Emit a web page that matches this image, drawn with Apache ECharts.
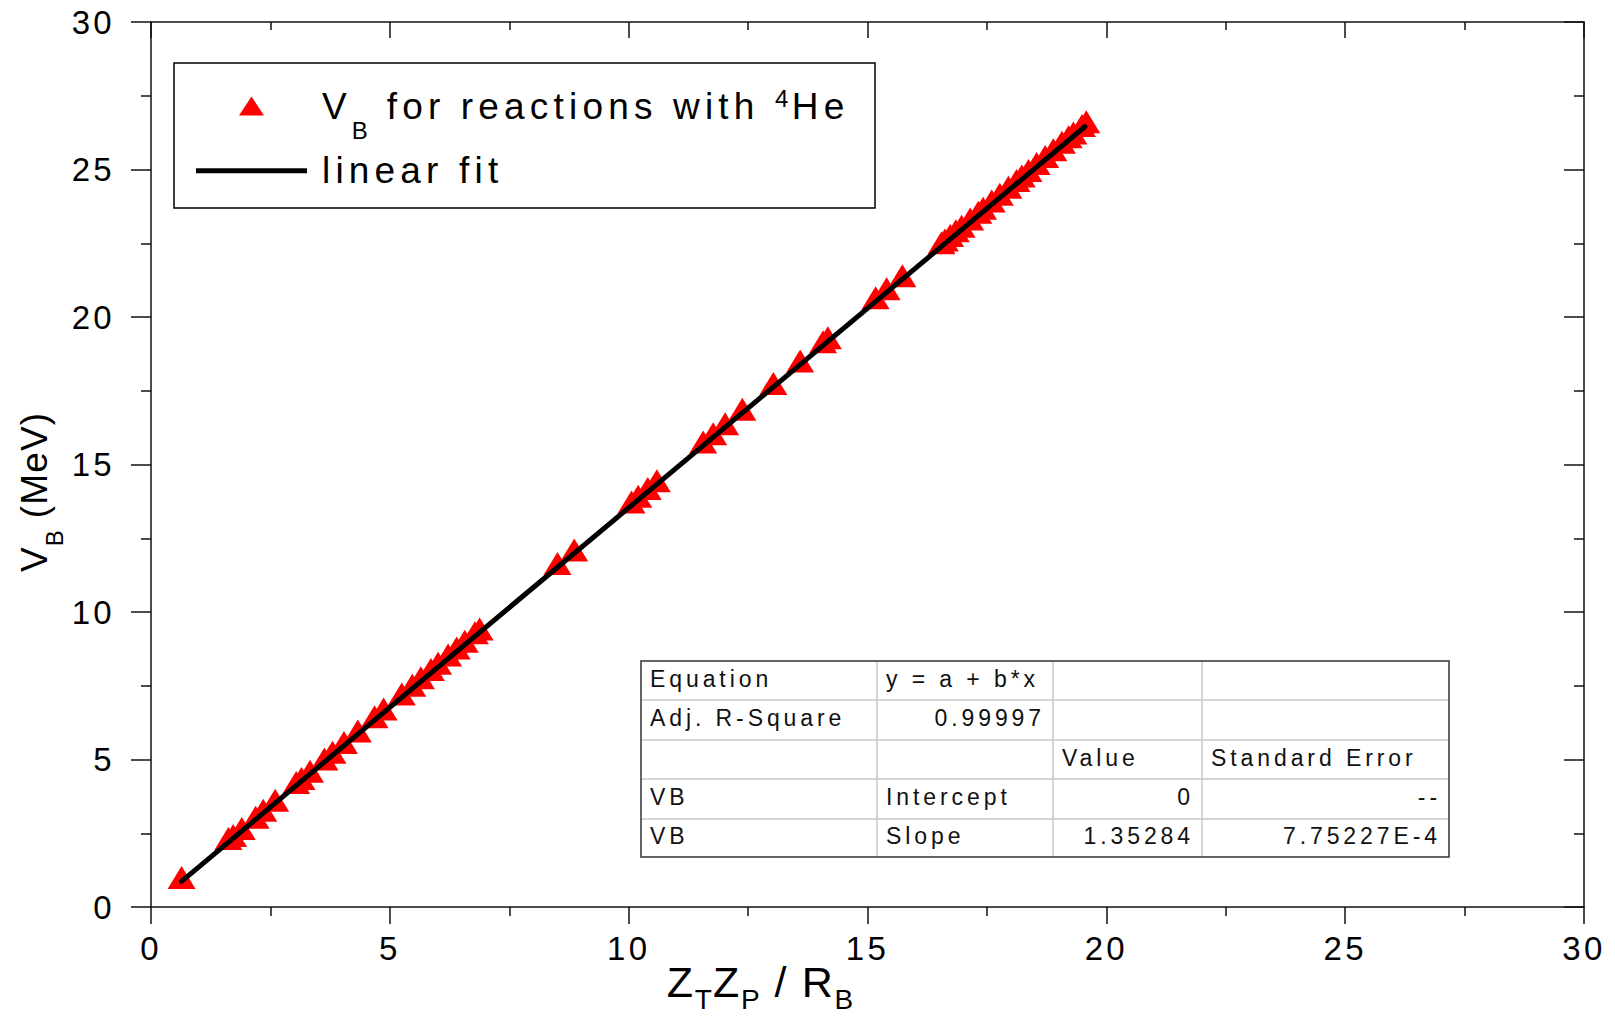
<!DOCTYPE html>
<html>
<head>
<meta charset="utf-8">
<script src="https://cdn.jsdelivr.net/npm/echarts@6.0.0/dist/echarts.min.js"></script>
<style>
    html, body { margin: 0; padding: 0; background: #fff; }
    #main { width: 1615px; height: 1017px; }
    /* Origin style tracking, picked per font family tag */
    #main text[style*="ls3"] { letter-spacing: 0.03em; }
    #main text[style*="ls4"] { letter-spacing: 0.04em; }
    #main text[style*="ls10"] { letter-spacing: 0.10em; }
    #main text[style*="ls14"] { letter-spacing: 0.14em; }
    #main text[style*="ls17"] { letter-spacing: 0.17em; }
</style>
</head>
<body>
<div id="main"></div>
<script>
// data
var xVals = [0.64, 1.62, 1.72, 1.90, 2.19, 2.35, 2.60, 3.04, 3.15, 3.33, 3.63, 3.80, 4.04, 4.33, 4.68, 4.87,
    5.25, 5.47, 5.65, 5.86, 6.01, 6.22, 6.40, 6.57, 6.78, 6.88, 8.51, 8.86, 10.06, 10.20, 10.40, 10.59,
    11.56, 11.77, 12.02, 12.38, 13.03, 13.59, 14.07, 14.17, 15.17, 15.40, 15.73,
    16.55, 16.62, 16.73, 16.85, 16.97, 17.15, 17.32, 17.42, 17.60, 17.77, 17.95, 18.12, 18.23, 18.37,
    18.54, 18.72, 18.89, 19.07, 19.21, 19.31, 19.49, 19.58];
var yVals = [1.00, 2.32, 2.42, 2.66, 3.04, 3.28, 3.62, 4.22, 4.36, 4.60, 5.02, 5.25, 5.58, 5.97, 6.45, 6.71,
    7.22, 7.52, 7.77, 8.05, 8.26, 8.54, 8.78, 9.01, 9.30, 9.42, 11.64, 12.10, 13.73, 13.92, 14.19, 14.45,
    15.76, 16.04, 16.38, 16.87, 17.75, 18.51, 19.16, 19.30, 20.65, 20.96, 21.40,
    22.52, 22.61, 22.76, 22.92, 23.08, 23.32, 23.55, 23.69, 23.93, 24.16, 24.40, 24.63, 24.78, 24.97,
    25.20, 25.44, 25.67, 25.92, 26.11, 26.24, 26.49, 26.62];
var fitX = [0.64, 19.55];
var fitY = [0.87, 26.45];

var axisMin = 0, axisMax = 30, axisStep = 5;

var tableCols = [641, 877, 1053, 1202, 1449];
var tableRowsY = [661, 700, 740, 779, 819, 857];
var tableText = [
    ['Equation', 'y = a + b*x', '', ''],
    ['Adj. R-Square', '0.99997', '', ''],
    ['', '', 'Value', 'Standard Error'],
    ['VB', 'Intercept', '0', '--'],
    ['VB', 'Slope', '1.35284', '7.75227E-4']
];
var tableAlign = [
    ['l', 'l', 'l', 'l'],
    ['l', 'r', 'l', 'l'],
    ['l', 'l', 'l', 'l'],
    ['l', 'l', 'r', 'r'],
    ['l', 'l', 'r', 'r']
];

var scatterName = 'VB for reactions with 4He';
var fitName = 'linear fit';

function fam(n) {
    return '"Liberation Sans", Arial, ls' + n;
}

// measure text with the same tracking the css adds
var measureCtx = document.createElement('canvas').getContext('2d');
if (echarts.setPlatformAPI) {
    echarts.setPlatformAPI({
        measureText: function (text, font) {
            font = font || '12px sans-serif';
            measureCtx.font = font;
            var m = measureCtx.measureText(text);
            var ls = /ls(\d+)/.exec(font);
            var size = /(\d+(?:\.\d+)?)px/.exec(font);
            var extra = (ls && size) ? text.length * parseFloat(size[1]) * parseInt(ls[1], 10) / 100 : 0;
            return {
                width: m.width + extra,
                actualBoundingBoxAscent: m.actualBoundingBoxAscent,
                actualBoundingBoxDescent: m.actualBoundingBoxDescent,
                actualBoundingBoxLeft: m.actualBoundingBoxLeft,
                actualBoundingBoxRight: m.actualBoundingBoxRight + extra
            };
        }
    });
}

var points = [];
for (var i = 0; i < xVals.length; i++) {
    points.push([xVals[i], yVals[i]]);
}
var fitLine = [[fitX[0], fitY[0]], [fitX[1], fitY[1]]];

// table drawn as graphic elements
var tableGraphic = [];
tableGraphic.push({
    type: 'rect', z: 10,
    shape: { x: tableCols[0], y: tableRowsY[0], width: tableCols[4] - tableCols[0], height: tableRowsY[5] - tableRowsY[0] },
    style: { fill: '#fff', stroke: 'none' }
});
for (var r = 1; r < tableRowsY.length - 1; r++) {
    tableGraphic.push({
        type: 'line', z: 11,
        shape: { x1: tableCols[0], y1: tableRowsY[r], x2: tableCols[4], y2: tableRowsY[r] },
        style: { stroke: '#c8c8c8', lineWidth: 1.5 }
    });
}
for (var c = 1; c < tableCols.length - 1; c++) {
    tableGraphic.push({
        type: 'line', z: 11,
        shape: { x1: tableCols[c], y1: tableRowsY[0], x2: tableCols[c], y2: tableRowsY[5] },
        style: { stroke: '#c8c8c8', lineWidth: 1.5 }
    });
}
tableGraphic.push({
    type: 'rect', z: 12,
    shape: { x: tableCols[0], y: tableRowsY[0], width: tableCols[4] - tableCols[0], height: tableRowsY[5] - tableRowsY[0] },
    style: { fill: 'none', stroke: '#333', lineWidth: 1.5 }
});
for (var r = 0; r < tableText.length; r++) {
    for (var c = 0; c < 4; c++) {
        if (!tableText[r][c]) continue;
        var right = tableAlign[r][c] === 'r';
        tableGraphic.push({
            type: 'text', z: 13,
            style: {
                text: tableText[r][c],
                x: right ? tableCols[c + 1] - 8 : tableCols[c] + 9,
                y: (tableRowsY[r] + tableRowsY[r + 1]) / 2 - 2,
                fill: '#111',
                fontSize: 23,
                fontFamily: fam(17),
                align: right ? 'right' : 'left',
                verticalAlign: 'middle',
                textAlign: right ? 'right' : 'left',
                textVerticalAlign: 'middle'
            }
        });
    }
}

var tickFont = { fontSize: 33, fontFamily: fam(10), color: '#000' };

var myChart = echarts.init(document.getElementById('main'), null, { renderer: 'svg' });
var option = {
    animation: false,
    backgroundColor: '#fff',
    grid: { left: 151, right: 31, top: 22, bottom: 110, containLabel: false, outerBoundsMode: 'none' },
    legend: {
        orient: 'vertical',
        left: 196,
        top: 74,
        padding: 0,
        itemGap: 6,
        itemWidth: 111,
        itemHeight: 19,
        selectedMode: false,
        data: [
            { name: scatterName, icon: 'path://M0,19L12.5,0L25,19Z' },
            { name: fitName, icon: 'path://M0,0L111,0L111,5L0,5Z' }
        ],
        formatter: function (name) {
            if (name === scatterName) {
                return '{m|V}{s|B}{m| for reactions with }{p|4}{m|He}';
            }
            return '{m|linear fit}';
        },
        textStyle: {
            color: '#000',
            fontSize: 37,
            fontFamily: fam(14),
            padding: [0, 0, 0, 10],
            rich: {
                m: { fontSize: 37, fontFamily: fam(14), lineHeight: 64, color: '#000' },
                s: { fontSize: 24, fontFamily: fam(14), height: 16, lineHeight: 16, verticalAlign: 'bottom', color: '#000' },
                p: { fontSize: 24, fontFamily: fam(14), height: 49, lineHeight: 49, verticalAlign: 'top', color: '#000' }
            }
        }
    },
    graphic: [{
        type: 'rect', z: 1,
        shape: { x: 174, y: 63, width: 701, height: 145 },
        style: { fill: '#fff', stroke: '#000', lineWidth: 1.5 }
    }].concat(tableGraphic),
    xAxis: [{
        type: 'value', position: 'bottom',
        min: axisMin, max: axisMax, interval: axisStep,
        name: '{m|Z}{s|T}{m|Z}{s|P}{m| / R}{s|B}',
        nameLocation: 'middle', nameGap: 50, nameMoveOverlap: false,
        nameTextStyle: {
            color: '#000', fontSize: 43, fontFamily: fam(4), padding: [0, 214, 0, 0],
            rich: {
                m: { fontSize: 43, fontFamily: fam(4), lineHeight: 50, color: '#000' },
                s: { fontSize: 28, fontFamily: fam(4), height: 15, lineHeight: 15, verticalAlign: 'bottom', color: '#000' }
            }
        },
        axisLine: { onZero: false, lineStyle: { color: '#111', width: 1.5 } },
        axisTick: { length: 17, lineStyle: { color: '#111', width: 1.5 } },
        minorTick: { show: true, splitNumber: 2, length: 9, lineStyle: { color: '#111', width: 1.5 } },
        axisLabel: Object.assign({ margin: 23 }, tickFont),
        splitLine: { show: false }
    }, {
        type: 'value', position: 'top',
        min: axisMin, max: axisMax, interval: axisStep,
        axisLine: { onZero: false, lineStyle: { color: '#111', width: 1.5 } },
        axisTick: { inside: true, length: 16, lineStyle: { color: '#111', width: 1.5 } },
        minorTick: { show: true, splitNumber: 2, length: 8, lineStyle: { color: '#111', width: 1.5 } },
        axisLabel: { show: false },
        splitLine: { show: false }
    }],
    yAxis: [{
        type: 'value', position: 'left',
        min: axisMin, max: axisMax, interval: axisStep,
        name: '{m|V}{s|B}{m| (MeV)}',
        nameLocation: 'middle', nameRotate: 90, nameGap: 92, nameMoveOverlap: false,
        nameTextStyle: {
            color: '#000', fontSize: 37, fontFamily: fam(3), padding: [0, 55, 0, 0],
            rich: {
                m: { fontSize: 37, fontFamily: fam(3), lineHeight: 50, color: '#000' },
                s: { fontSize: 24, fontFamily: fam(3), height: 10, lineHeight: 10, verticalAlign: 'bottom', color: '#000' }
            }
        },
        axisLine: { onZero: false, lineStyle: { color: '#111', width: 1.5 } },
        axisTick: { length: 20, lineStyle: { color: '#111', width: 1.5 } },
        minorTick: { show: true, splitNumber: 2, length: 10, lineStyle: { color: '#111', width: 1.5 } },
        axisLabel: Object.assign({ margin: 36 }, tickFont),
        splitLine: { show: false }
    }, {
        type: 'value', position: 'right',
        min: axisMin, max: axisMax, interval: axisStep,
        axisLine: { onZero: false, lineStyle: { color: '#111', width: 1.5 } },
        axisTick: { inside: true, length: 20, lineStyle: { color: '#111', width: 1.5 } },
        minorTick: { show: true, splitNumber: 2, length: 10, lineStyle: { color: '#111', width: 1.5 } },
        axisLabel: { show: false },
        splitLine: { show: false }
    }],
    series: [{
        name: scatterName,
        type: 'scatter',
        xAxisIndex: 0, yAxisIndex: 0,
        symbol: 'triangle',
        symbolSize: [28, 23],
        itemStyle: { color: '#ff0000', opacity: 1 },
        data: points,
        z: 2
    }, {
        name: fitName,
        type: 'line',
        xAxisIndex: 0, yAxisIndex: 0,
        symbol: 'none',
        lineStyle: { color: '#000', width: 5, cap: 'round' },
        itemStyle: { color: '#000' },
        data: fitLine,
        z: 3
    }]
};
myChart.setOption(option);
</script>
</body>
</html>
